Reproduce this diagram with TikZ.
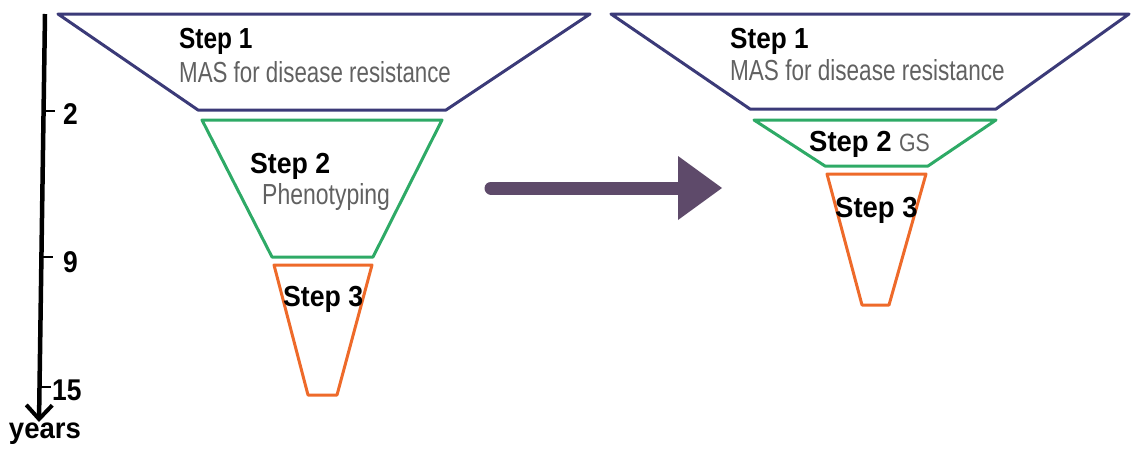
\documentclass[tikz,border=0pt]{standalone}
\usepackage{fontspec}
\setmainfont{Liberation Sans}
\usetikzlibrary{arrows.meta}
\definecolor{navyc}{HTML}{3B3A78}
\definecolor{greenc}{HTML}{2EAA66}
\definecolor{orangec}{HTML}{EE6A2A}
\definecolor{arrowc}{HTML}{5E4A6A}
\tikzset{
  stepname/.style={anchor=base west, inner sep=0pt, xscale=0.92, font=\fontsize{29}{29}\selectfont\bfseries},
  stepsub/.style={anchor=base west, inner sep=0pt, xscale=0.77, text=black!62, font=\fontsize{29}{29}\selectfont},
  ticklabel/.style={anchor=west, inner sep=0pt, xscale=0.88, font=\fontsize{30}{30}\selectfont\bfseries},
  funnel1/.style={draw=navyc, line width=3pt, line join=round},
  funnel2/.style={draw=greenc, line width=3pt, line join=round},
  funnel3/.style={draw=orangec, line width=3pt, line join=round},
}
\begin{document}
\begin{tikzpicture}[x=1pt,y=-1pt]
\useasboundingbox (0,0) rectangle (1135,453);
% ---- time axis
\coordinate (axtop) at (45,14);
\coordinate (axbot) at (39,422);
\draw[line width=4.5pt, -{Straight Barb[length=14pt,width=26pt,line width=4pt]}] (axtop) -- (axbot);
\coordinate (t2) at (43.5,111);
\coordinate (t9) at (41.6,257);
\coordinate (t15) at (40,387);
\draw[line width=2.5pt] (t2) -- +(11,0);
\draw[line width=2.5pt] (t9) -- +(11,0);
\draw[line width=2.5pt] (t15) -- +(11,0);
\node[ticklabel] (l2) at (63,114) {2};
\node[ticklabel] (l9) at (63,262) {9};
\node[ticklabel] (l15) at (52,390) {15};
\node[anchor=center, inner sep=0pt, xscale=0.95, font=\fontsize{29}{29}\selectfont\bfseries] (years) at (45,434) {years};
% ---- left funnel
\draw[funnel1] (58,14) -- (590,14) -- (446,110) -- (198,110) -- cycle;
\draw[funnel2] (202,120) -- (442,120) -- (373,257) -- (272,257) -- cycle;
\draw[funnel3] (274,265) -- (372,265) -- (337,395) -- (308,395) -- cycle;
\node[stepname, xscale=0.915] (s1l) at (179,48) {Step 1};
\node[stepsub] (m1l) at (179,82) {MAS for disease resistance};
\node[stepname] (s2l) at (250,173) {Step 2};
\node[stepsub, xscale=1.03] (p2l) at (262,204) {Phenotyping};
\node[stepname] (s3l) at (283,306) {Step 3};
% ---- big arrow
\coordinate (ar1) at (491,188);
\coordinate (ar2) at (680,188);
\draw[arrowc, line width=13pt, line cap=round] (ar1) -- (ar2);
\fill[arrowc] (678,156) -- (722,188) -- (678,220) -- cycle;
% ---- right funnel
\draw[funnel1] (611,14) -- (1129,14) -- (996,109) -- (750,109) -- cycle;
\draw[funnel2] (754,120) -- (996,120) -- (928,166) -- (825,166) -- cycle;
\draw[funnel3] (827,174) -- (926,174) -- (889,305) -- (862,305) -- cycle;
\node[stepname, xscale=0.98] (s1r) at (730,48) {Step 1};
\node[stepsub, xscale=1.01] (m1r) at (730,80) {MAS for disease resistance};
\node[stepname, xscale=1.03] (s2r) at (809,151) {Step 2};
\node[anchor=base west, inner sep=0pt, xscale=0.85, text=black!62, font=\fontsize{25}{25}\selectfont] (g2r) at (899,151) {GS};
\node[stepname, xscale=1.03] (s3r) at (835,217) {Step 3};
\end{tikzpicture}
\end{document}
